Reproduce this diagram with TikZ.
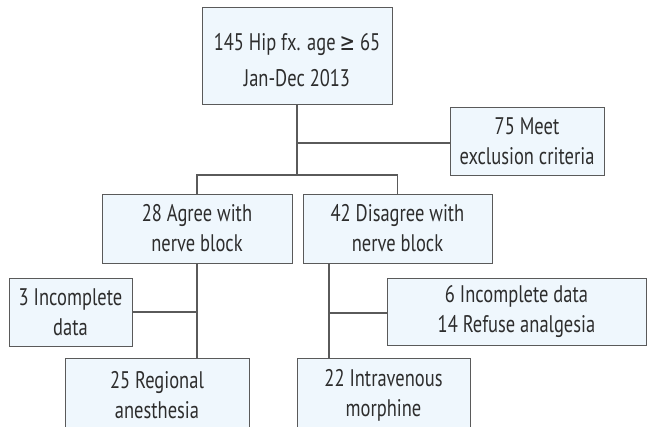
\documentclass[tikz,border=0pt]{standalone}
\usepackage{fontspec}
\setmainfont{PT Sans}[FakeStretch=0.77]
\newfontfamily\symfont{DejaVu Sans}[FakeStretch=0.77]
\usetikzlibrary{positioning}
\definecolor{boxfill}{RGB}{239,247,253}
\definecolor{boxline}{RGB}{90,90,90}
\definecolor{txtgray}{RGB}{45,45,45}

\begin{document}
\begin{tikzpicture}[x=1pt,y=-1pt,
    flowbox/.style={draw=boxline, fill=boxfill, line width=1pt, text=txtgray,
      align=center, inner sep=0pt, font=\fontsize{24}{30}\selectfont},
    link/.style={draw=boxline, line width=1.1pt}]
  \useasboundingbox (0,0) rectangle (647,426);
  \clip (0,0) rectangle (647,426);

  % boxes
  \node[flowbox, minimum width=190pt, minimum height=97pt] (hip) at (297,55.5)
    {\rule{0pt}{26pt}145 Hip fx. age\,{\symfont ≥} 65\\[6pt]Jan-Dec 2013};
  \node[flowbox, minimum width=154pt, minimum height=68pt] (excl) at (527,141)
    {75 Meet\\exclusion criteria};
  \node[flowbox, minimum width=190pt, minimum height=69pt] (agree) at (197,228.5)
    {28 Agree with\\nerve block};
  \node[flowbox, minimum width=189pt, minimum height=69pt] (disagree) at (397.5,228.5)
    {42 Disagree with\\nerve block};
  \node[flowbox, minimum width=123pt, minimum height=68pt] (incthree) at (70.5,312)
    {3 Incomplete\\data};
  \node[flowbox, minimum width=259pt, minimum height=67pt] (incsix) at (516.5,311.5)
    {6 Incomplete data\\14 Refuse analgesia};
  \node[flowbox, minimum width=184pt, minimum height=74.4pt] (regional) at (157,395.2)
    {25 Regional\\anesthesia};
  \node[flowbox, minimum width=173pt, minimum height=74.4pt] (morphine) at (383.5,395.2)
    {22 Intravenous\\morphine};

  % junction points
  \coordinate (excljoin) at (297,143);
  \coordinate (split) at (297,175);
  \coordinate (disjoin) at (329,313);

  % lines from the top box
  \draw[link] (hip.south) -- (split);
  \draw[link] (excljoin) -- (excljoin -| excl.west);
  \draw[link] (agree.north) |- (split) -| (disagree.north);

  % left branch
  \draw[link] (agree.south) -- (agree.south |- regional.north);
  \draw[link] (incthree.east) -- (incthree.east -| agree.south);

  % right branch
  \draw[link] (disjoin |- disagree.south) -- (disjoin |- morphine.north);
  \draw[link] (disjoin) -- (disjoin -| incsix.west);
\end{tikzpicture}
\end{document}
